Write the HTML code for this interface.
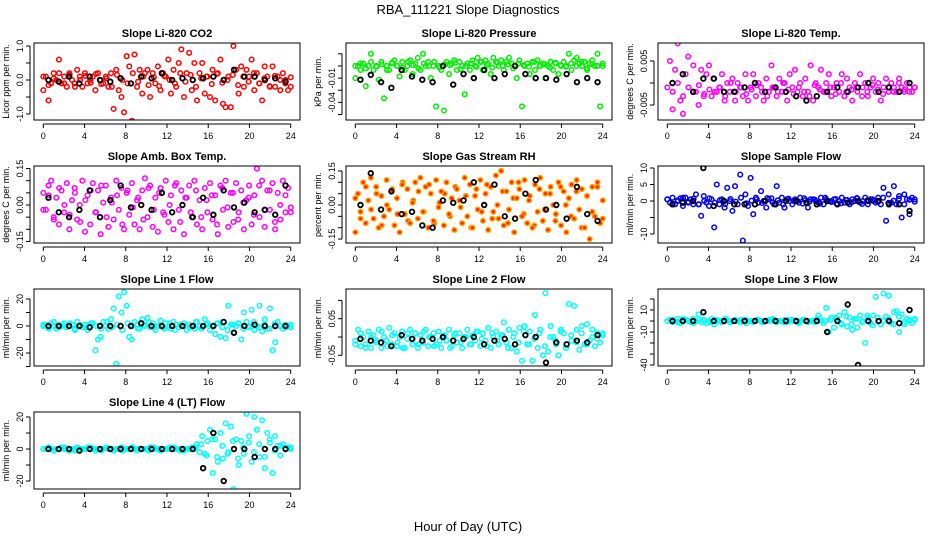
<!DOCTYPE html>
<html><head><meta charset="utf-8">
<style>
html,body{margin:0;padding:0;background:#fff;}
svg{display:block;font-family:"Liberation Sans",sans-serif;}
</style></head>
<body>
<svg id="chart" width="936" height="540" viewBox="0 0 936 540">
<text x="468" y="14" font-size="13" text-anchor="middle">RBA_111221  Slope Diagnostics</text>
<text x="468" y="531" font-size="13" text-anchor="middle">Hour of Day (UTC)</text>
</svg>
<script>
const xTicks = [0,4,8,12,16,20,24];

const co2Vals = [-0.3,0.1,-0.6,-0.1,0.2,0.0,0.6,-0.1, 0.1,-0.2,0.2,0.0,-0.1,0.3,0.1,-0.2, 0.2,-0.1,0.0,0.1,-0.3,0.2,0.0,-0.1, 0.1,-0.2,0.2,-0.85,0.3,-0.3,-0.5,-0.95, 0.7,0.4,-1.2,0.75,-0.2,0.3,-0.4,0.2, 0.3,-0.5,0.2,-0.1,0.4,-0.3,0.2,0.1, 0.6,-0.4,0.3,-0.2,0.5,0.9,-0.5,0.2, 0.8,-0.3,0.5,-0.6,0.2,0.5,-0.4,0.1, -0.5,0.3,-0.6,0.2,0.6,-0.7,-0.8,0.1, -0.8,1.0,0.3,-0.4,0.4,-0.2,0.3,0.1, 0.6,-0.3,0.2,-0.1,-0.6,0.4,0.1,-0.2, 0.4,-0.2,0.1,-0.3,0.2,0.0,-0.3,-0.2];
const co2Band = [0.1,-0.15,0.05,0.2,-0.1,0.15,-0.2,0.0,0.12,-0.08,0.18,-0.12,0.05,-0.2,0.15,0.0,-0.1,0.2,-0.05,0.1,-0.15,0.08,-0.18,0.12,0.0,-0.1,0.2,-0.05,0.15,-0.2,0.05,0.1,-0.12,0.18,-0.08,0.0,0.15,-0.15,0.1,-0.05,0.2,-0.1,0.05,-0.18,0.12,0.0,-0.1,0.08];
const co2Black = [0.0,-0.05,0.1,-0.1,0.1,0.0,-0.05,0.05,-0.1,0.1,0.05,0.2,0.0,0.05,0.0,0.05,0.1,0.0,0.3,0.1,0.1,0.0,0.05,-0.05];

const presVals = [-0.01,0.005,0.0,0.008,-0.02,0.005,0.02,0.0, 0.005,-0.012,0.01,-0.035,0.005,0.0,0.008,0.012, 0.005,-0.008,0.01,0.0,0.005,0.012,-0.005,0.008, 0.015,0.0,0.02,0.005,0.01,-0.01,0.005,-0.045, 0.005,0.0,-0.05,0.01,-0.005,0.008,0.012,0.0, 0.01,0.005,-0.03,0.008,0.0,0.012,0.005,0.015, 0.01,0.0,0.012,0.008,-0.005,0.015,0.01,0.005, 0.012,0.0,0.01,0.015,0.008,0.005,-0.01,0.012, -0.045,0.005,0.008,-0.005,0.01,0.0,0.012,0.005, 0.008,-0.01,0.005,0.01,0.0,0.008,-0.005,0.005, 0.01,0.005,0.02,0.0,0.012,0.015,0.008,0.005, 0.01,0.0,0.008,0.012,0.005,0.02,-0.045,0.005];
const presBand = [0.005,0.008,0.002,0.01,0.004,0.007,0.0,0.009,0.005,0.003,0.01,0.006,0.002,0.008,0.005,0.01,0.003,0.007,0.006,0.009,0.001,0.005,0.008,0.004,0.01,0.006,0.003,0.009,0.005,0.007,0.002,0.008,0.006,0.004,0.01,0.005,0.007,0.003,0.009,0.006,0.004,0.008,0.005,0.01,0.002,0.007,0.005,0.008];
const presBlack = [-0.012,-0.006,-0.015,-0.022,0.0,-0.008,-0.012,-0.015,0.005,-0.018,-0.005,-0.01,0.0,-0.01,-0.005,0.005,-0.005,-0.01,-0.01,-0.012,-0.005,-0.015,-0.01,-0.015];

const tempVals = [-0.009,0.005,-0.006,0.003,0.009,-0.004,-0.007,0.002, 0.006,-0.012,0.004,-0.002,-0.005,0.003,-0.003,0.002, 0.004,-0.003,0.001,-0.002,-0.001,0.002,-0.004,0.0, -0.002,0.001,-0.004,0.0,-0.001,-0.003,0.002,-0.004, -0.001,0.002,-0.003,0.0,-0.001,-0.004,0.001,-0.002, 0.004,-0.001,-0.003,0.001,-0.002,0.0,-0.004,0.002, -0.001,0.003,-0.002,0.0,-0.003,0.001,-0.002,0.004, -0.004,0.0,-0.001,0.003,-0.002,0.0,0.002,-0.003, -0.001,0.0,-0.002,0.002,-0.003,0.001,-0.001,-0.004, 0.0,-0.002,0.002,-0.001,0.0,-0.003,-0.001,0.001, -0.002,0.0,-0.004,-0.001,0.001,-0.002,0.0,-0.001, -0.002,0.001,-0.001,-0.002,0.0,-0.001,-0.002,-0.001];
const tempBand = [-0.001,-0.002,0.0,-0.003,-0.001,-0.002,-0.0005,-0.0025,-0.0015,-0.002,-0.001,-0.003,0.0,-0.002,-0.001,-0.0025,-0.0015,-0.0005,-0.002,-0.003,-0.001,-0.002,0.0,-0.0015,-0.0025,-0.001,-0.002,-0.003,-0.0005,-0.0015,-0.002,-0.001,-0.0025,0.0,-0.002,-0.0015,-0.001,-0.003,-0.002,-0.0005,-0.0015,-0.0025,-0.001,-0.002,0.0,-0.0015,-0.002,-0.001];
const tempBlack = [0.0,0.002,-0.002,0.001,0.001,-0.002,-0.002,-0.001,0.0,-0.002,-0.001,-0.002,-0.003,-0.004,-0.003,-0.002,-0.001,-0.002,-0.001,0.0,-0.002,-0.001,-0.002,0.0];

const ambVals = [0.05,-0.02,0.08,0.1,-0.05,0.03,-0.08,0.06, -0.03,0.09,-0.1,0.02,0.07,-0.06,0.0,0.1, -0.11,0.04,-0.08,0.09,-0.03,0.06,-0.12,0.01, 0.08,-0.09,0.03,-0.06,0.1,-0.02,0.07,-0.1, 0.05,-0.04,0.09,-0.08,0.02,-0.1,0.06,0.11, -0.05,0.08,-0.09,0.03,-0.11,0.07,-0.03,0.1, -0.07,0.04,-0.1,0.09,-0.02,0.06,-0.12,0.03, 0.08,-0.05,0.1,-0.08,0.02,-0.1,0.07,-0.03, 0.09,-0.06,0.04,-0.12,0.08,-0.02,0.1,-0.09, 0.05,-0.07,0.09,-0.03,0.06,-0.1,0.02,0.08, -0.08,0.04,0.15,-0.05,0.1,-0.09,0.06,-0.02, 0.09,-0.1,0.05,-0.06,0.1,-0.03,0.07,-0.01];
const ambBand = [-0.02,0.04,-0.06,0.07,0.0,-0.04,0.05,-0.07,0.02,0.06,-0.03,0.08,-0.05,0.01,0.04,-0.08,0.06,-0.01,0.03,-0.06,0.07,-0.02,0.05,-0.04,0.0,0.08,-0.07,0.03,-0.03,0.06,-0.05,0.02,0.04,-0.08,0.07,-0.01,0.05,-0.06,0.01,0.03,-0.04,0.08,-0.02,0.06,-0.07,0.0,0.04,-0.03];
const ambBlack = [0.03,-0.03,-0.05,-0.02,0.06,-0.05,0.02,0.08,-0.01,0.0,-0.02,0.05,-0.03,0.0,-0.05,0.03,-0.04,0.06,-0.01,0.01,-0.03,-0.02,-0.04,0.08];

const rhVals = [-0.12,0.05,-0.03,0.1,-0.08,0.02,0.12,-0.06, 0.08,-0.1,0.04,-0.05,0.11,-0.02,0.06,-0.09, 0.03,-0.12,0.09,-0.04,0.07,-0.08,0.01,0.1, -0.06,0.12,-0.03,0.08,-0.1,0.05,-0.07,0.11, -0.01,0.06,-0.09,0.1,-0.04,0.03,-0.11,0.07, 0.02,-0.08,0.12,-0.05,0.09,-0.1,0.04,-0.02, 0.11,-0.07,0.05,-0.11,0.08,-0.03,0.13,-0.06, 0.15,-0.09,0.06,-0.02,0.1,-0.12,0.03,0.07, -0.05,0.11,-0.08,0.04,-0.1,0.09,-0.03,0.12, -0.07,0.05,-0.11,0.08,0.0,-0.04,0.1,-0.09, 0.06,-0.12,0.03,0.09,-0.06,0.11,-0.02,0.07, -0.1,0.04,-0.15,0.08,-0.05,0.1,-0.08,0.02];
const rhBand = [0.03,-0.06,0.08,-0.02,0.05,-0.09,0.0,0.07,-0.04,0.1,-0.07,0.02,0.06,-0.03,0.09,-0.08,0.01,0.05,-0.05,0.08,-0.01,0.04,-0.1,0.07,-0.03,0.09,-0.06,0.0,0.06,-0.08,0.03,0.1,-0.04,0.02,-0.09,0.07,-0.02,0.05,-0.07,0.08,0.0,-0.05,0.06,-0.1,0.04,-0.03,0.08,-0.06];
const rhBlack = [0.0,0.14,-0.02,0.06,-0.04,-0.03,-0.09,-0.1,0.02,0.01,0.02,0.1,0.0,0.09,-0.05,-0.06,0.05,0.11,-0.02,0.0,-0.06,0.08,-0.04,-0.07];

const sampleVals = [0.5,-0.5,1,-1,0,0.8,-1.5,1, -0.5,0.5,-1,2,-1,-4.5,1.5,-0.5, -1.5,0.5,-8,5,-1,0.5,-2,4, 0,-3,4.5,-1,8,-12,2,-1.5, 7,-4,1,-0.5,3,0,-2,0.5, 0.8,-1,4.5,-0.5,1,-2,0.5,0, -1,0.5,0,1,-0.8,0.3,-2,0.5, 0.5,0,-0.5,1,-1,0.5,0,-0.3, 0.5,-0.8,0,1,-0.5,0.3,-1,0.5, 0,0.8,-0.5,0,1,-1,0.5,0, -0.5,1,-1,4,-6,2,-0.5,4.5, -1,1.5,-5,2,0.5,-4,1,0.5];
const sampleBand = [0.5,-0.8,0.2,1.0,-0.3,0.7,-1.0,0.0,0.8,-0.5,0.3,-0.9,0.6,-0.2,1.0,-0.7,0.1,0.5,-0.6,0.9,-0.4,0.2,-1.0,0.7,0.0,-0.5,0.8,-0.2,0.4,-0.8,1.0,-0.1,0.6,-0.7,0.3,-0.4,0.9,-0.9,0.2,0.5,-0.3,1.0,-0.6,0.1,0.7,-1.0,0.4,-0.2];
const sampleBlack = [-1,-0.5,0,10,-1.5,0,-1,-1,-1,0,-1,0,0,-0.5,-1,0,-1,-0.5,0,0,0,-1,-1,-3];

const line1Vals = [0,1,-1,2,0,-2,1,0, 2,-1,0,1,-2,3,0,-1, 1,-3,0,2,-18,-10,-8,3, 0,-2,5,13,-28,22,10,25, 15,-8,-10,3,1,-2,5,0, 6,-1,2,-3,0,4,-1,2, 0,-2,3,1,-1,0,2,-3, 1,0,-2,3,0,-1,5,2, -3,0,-6,2,-8,3,-9,15, 1,-5,0,2,-10,10,3,-1, 12,-3,0,15,-4,5,-2,13, -18,-12,3,0,-2,1,0,-1];
const line1Band = [1,-2,3,-1,0,2,-3,1,-1,2,0,-2,3,-1,1,-3,2,0,-2,1,3,-1,0,-2,2,-3,1,0,-1,3,-2,1,0,2,-1,-3,1,2,-2,0,3,-1,1,-2,2,0,-1,1];
const line1Black = [0,0,0,0,-1,0,0,0,0,2,0,0,0,0,0,0,0,3,-5,0,1,0,0,0];

const line2Vals = [-0.01,0.02,-0.025,0.0,-0.02,0.015,-0.03,0.005, -0.015,0.02,-0.03,0.0,-0.01,0.025,-0.02,0.01, -0.025,0.0,0.015,-0.03,-0.005,0.02,-0.02,0.01, -0.03,0.005,-0.015,0.02,-0.025,0.0,0.01,-0.02, 0.015,-0.03,0.0,-0.01,0.02,-0.025,0.005,-0.015, 0.01,-0.03,0.0,0.02,-0.02,0.005,-0.01,0.015, -0.025,0.01,-0.01,0.025,-0.03,0.0,0.015,-0.02, 0.005,0.04,-0.015,0.02,-0.03,0.01,-0.04,0.025, -0.065,0.03,-0.02,0.015,-0.065,0.06,-0.03,0.02, -0.05,0.12,-0.04,0.03,0.0,-0.02,-0.05,0.02, 0.01,-0.03,0.09,-0.01,0.085,0.02,-0.035,0.03, -0.02,0.035,-0.01,0.02,-0.025,0.01,-0.015,0.005];
const line2Band = [-0.02,0.01,-0.03,0.0,-0.01,0.015,-0.025,0.005,-0.015,-0.03,0.01,-0.005,-0.02,0.015,0.0,-0.025,-0.01,0.005,-0.03,0.01,-0.015,0.0,-0.02,0.015,-0.005,-0.025,0.01,-0.01,0.005,-0.03,0.0,-0.015,0.015,-0.02,-0.005,0.01,-0.025,0.0,-0.01,0.015,-0.03,0.005,-0.015,0.01,-0.02,0.0,-0.005,0.01];
const line2Black = [-0.005,-0.01,-0.015,-0.025,0.005,-0.005,-0.01,-0.005,0.0,-0.01,-0.005,0.0,-0.02,-0.01,-0.005,-0.02,0.005,0.0,-0.07,-0.015,-0.02,-0.01,-0.015,0.005];

const line3Vals = [0,1,-1,0,2,-2,0,1, 0,-1,2,0,6,-1,1,-2, 0,2,-3,1,0,-1,0,1, -1,0,1,0,-1,0,1,0, 0,-1,0,1,0,-1,0,1, 0,1,-1,0,0,1,-1,0, 1,0,-1,0,1,0,-1,0, 0,1,5,0,-2,12,-10,3, -6,2,5,-3,8,-5,3,-8, 2,-6,5,0,-20,3,-2,5, 22,0,-3,25,4,23,-2,8, 9,-10,6,-3,2,0,-2,1];
const line3Band = [0,1,-1,2,0,-2,1,0,-1,1,0,2,-1,0,1,-2,0,1,-1,0,2,0,-1,1,0,-2,1,0,-1,2,0,1,3,-2,4,-3,2,-1,5,-4,3,0,2,-3,4,-1,1,2];
const line3Black = [0,0,0,8,0,0,0,0,0,0,0,0,0,0,0,-10,0,15,-40,0,0,0,-2,10];

const line4Vals = [0,0,1,0,-1,0,0,1, 0,0,-1,0,0,1,0,0, 0,1,0,0,-1,0,0,0, 1,0,0,-1,0,0,1,0, 0,0,1,0,-1,0,0,0, 0,1,0,0,0,-1,0,0, 0,0,1,0,0,0,-1,0, 0,1,0,3,-2,8,-3,5, 12,-15,6,-8,10,-6,16,-2, 14,-25,6,-10,5,-3,22,8, -8,20,12,-5,18,-12,10,4, -15,8,2,-4,3,0,1,0];
const line4Band = [0,1,-1,0,1,0,-1,0,0,1,0,-1,1,0,0,-1,0,1,0,0,-1,1,0,0,1,0,-1,0,0,1,3,-4,6,-5,2,-3,5,-6,1,4,-2,3,-5,6,-1,2,0,1];
const line4Black = [0,0,0,-1,0,0,0,0,0,0,0,0,0,0,0,-12,10,-20,0,0,-5,0,0,0];

const panels = [
 {name:'co2', title:'Slope Li-820 CO2', ylab:'Licor ppm per min.', col:'#ff0000', vals:co2Vals, band:co2Band, blk:co2Black, row:0, colIdx:0, y0:80, ppu:34, ticks:[-1,-0.5,0,0.5,1], labels:['-1.0','0.0','1.0']},
 {name:'pressure', title:'Slope Li-820 Pressure', ylab:'kPa per min.', col:'#00ee00', vals:presVals, band:presBand, blk:presBlack, row:0, colIdx:1, y0:70, ppu:810, ticks:[0.02,0.005,-0.01,-0.025,-0.04,-0.055], labels:['-0.01','-0.04']},
 {name:'li820-temp', title:'Slope Li-820 Temp.', ylab:'degrees C per min.', col:'#ff00ff', vals:tempVals, band:tempBand, blk:tempBlack, row:0, colIdx:2, y0:83, ppu:4400, ticks:[0.005,0,-0.005], labels:['0.005','-0.005']},
 {name:'amb-box-temp', title:'Slope Amb. Box Temp.', ylab:'degrees C per min.', col:'#ff00ff', vals:ambVals, band:ambBand, blk:ambBlack, row:1, colIdx:0, y0:205, ppu:243, ticks:[0.15,0.1,0.05,0,-0.05,-0.1,-0.15], labels:['0.15','0.00','-0.15']},
 {name:'gas-stream-rh', title:'Slope Gas Stream RH', ylab:'percent per min.', col:'#ffa500', vals:rhVals, band:rhBand, blk:rhBlack, row:1, colIdx:1, y0:205, ppu:227, ticks:[0.15,0.1,0.05,0,-0.05,-0.1,-0.15], labels:['0.15','0.00','-0.15']},
 {name:'sample-flow', title:'Slope Sample Flow', ylab:'ml/min per min.', col:'#0000ff', vals:sampleVals, band:sampleBand, blk:sampleBlack, row:1, colIdx:2, y0:201, ppu:3.3, ticks:[10,5,0,-5,-10], labels:['10','5','0','-10']},
 {name:'line1-flow', title:'Slope Line 1 Flow', ylab:'ml/min per min.', col:'#00ffff', vals:line1Vals, band:line1Band, blk:line1Black, row:2, colIdx:0, y0:326, ppu:1.35, ticks:[20,10,0,-10,-20,-30], labels:['20','0','-20']},
 {name:'line2-flow', title:'Slope Line 2 Flow', ylab:'ml/min per min.', col:'#00ffff', vals:line2Vals, band:line2Band, blk:line2Black, row:2, colIdx:1, y0:337, ppu:366, ticks:[0.1,0.05,0,-0.05], labels:['0.05','-0.05']},
 {name:'line3-flow', title:'Slope Line 3 Flow', ylab:'ml/min per min.', col:'#00ffff', vals:line3Vals, band:line3Band, blk:line3Black, row:2, colIdx:2, y0:321, ppu:1.1, ticks:[20,10,0,-10,-20,-30,-40], labels:['10','-10','-40']},
 {name:'line4-flow', title:'Slope Line 4 (LT) Flow', ylab:'ml/min per min.', col:'#00ffff', vals:line4Vals, band:line4Band, blk:line4Black, row:3, colIdx:0, y0:449, ppu:1.6, ticks:[20,10,0,-10,-20], labels:['20','0','-20']}
];

const NS = 'http://www.w3.org/2000/svg';
const svg = document.getElementById('chart');
function mk(tag, attrs, parent){ const e=document.createElementNS(NS,tag); for(const k in attrs) e.setAttribute(k,attrs[k]); parent.appendChild(e); return e; }

panels.forEach(p=>{
  const left = 34 + p.colIdx*312, right = left+266;
  const top = 43 + p.row*123, bottom = top+77;
  const xs = h => 43.3 + (h/24)*247.4 + p.colIdx*312;
  const ys = v => p.y0 - v*p.ppu;
  const g = mk('g',{},svg);
  
  
  const t = mk('text',{x:(left+right)/2, y:top-6, 'font-size':11, 'font-weight':'bold','text-anchor':'middle'},g);
  t.textContent = p.title;
  
  
  const yl = mk('text',{x:0,y:0,'font-size':9,'text-anchor':'middle',transform:`translate(${left-25},${(top+bottom)/2}) rotate(-90)`},g);
  yl.textContent = p.ylab;
  
  
  const cid = 'clip-'+p.name;
  const cp = mk('clipPath',{id:cid},g);
  mk('rect',{x:left,y:top,width:266,height:77},cp);
  const pts = mk('g',{'clip-path':`url(#${cid})`},g);
  
  
  const fillCol = p.name==='gas-stream-rh'?'#ff2200':'none';
  [p.band, p.vals].forEach(arr=>{
    arr.forEach((v,i)=>{
      const c = mk('circle',{cx:xs(i*24/(arr.length-1)), cy:ys(v), r:2.3, fill:fillCol, stroke:p.col,'stroke-width':1.5},pts);
      
      
    });
  });
  p.blk.forEach((v,i)=>{
    const c = mk('circle',{cx:xs(i+0.5), cy:ys(v), r:2.3, fill:'none', stroke:'#000','stroke-width':1.8},pts);
    
    
  });
  const box = mk('rect',{x:left,y:top,width:266,height:77,fill:'none',stroke:'#000','stroke-width':1},g);
  
  
  mk('line',{x1:xs(0),x2:xs(24),y1:bottom+4,y2:bottom+4,stroke:'#000'},g);
  xTicks.forEach(h=>{
    mk('line',{x1:xs(h),x2:xs(h),y1:bottom+4,y2:bottom+8,stroke:'#000'},g);
    const tl = mk('text',{x:xs(h),y:bottom+19,'font-size':9,'text-anchor':'middle'},g);
    tl.textContent = h;
    
    
  });
  const yTop = ys(Math.max(...p.ticks)), yBot = ys(Math.min(...p.ticks));
  mk('line',{x1:left-4,x2:left-4,y1:yTop,y2:yBot,stroke:'#000'},g);
  p.ticks.forEach(v=>{ mk('line',{x1:left-8,x2:left-4,y1:ys(v),y2:ys(v),stroke:'#000'},g); });
  p.labels.forEach(s=>{
    const v = parseFloat(s);
    const tl = mk('text',{x:0,y:0,'font-size':9,'text-anchor':'middle',transform:`translate(${left-11},${ys(v)}) rotate(-90)`},g);
    tl.textContent = s;
    
    
  });
});
</script>
</body></html>
